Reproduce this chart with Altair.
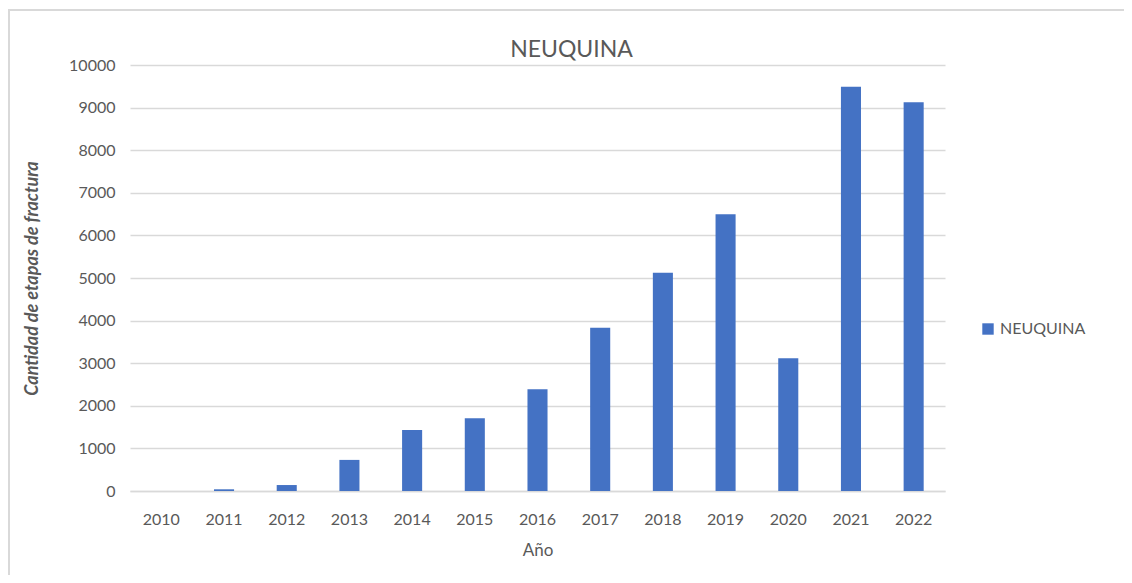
import altair as alt
import pandas as pd

years = ["2010", "2011", "2012", "2013", "2014", "2015", "2016", "2017", "2018", "2019", "2020", "2021", "2022"]
values = [0, 40, 140, 730, 1430, 1710, 2390, 3835, 5125, 6495, 3115, 9490, 9125]
series = ["NEUQUINA"] * len(years)
y_ticks = [0, 1000, 2000, 3000, 4000, 5000, 6000, 7000, 8000, 9000, 10000]
chart_title = "NEUQUINA"

df = pd.DataFrame({"Año": years, "valor": values, "serie": series})

W, H = 815, 426
FONT = "Lato"
GRAY = "#595959"
BORDER = "#d9d9d9"

one = pd.DataFrame({"a": [0]})
L, R, T, B = -121, W + 179, -55, H + 84
top_r = alt.Chart(one).mark_rect(color=BORDER).encode(
    x=alt.value(L - 1), x2=alt.value(R), y=alt.value(T - 1), y2=alt.value(T + 1))
left_r = alt.Chart(one).mark_rect(color=BORDER).encode(
    x=alt.value(L - 1), x2=alt.value(L + 1), y=alt.value(T - 1), y2=alt.value(B))

title = alt.Chart(pd.DataFrame({"t": [chart_title]})).mark_text(
    fontSize=23, font=FONT, color=GRAY, align="center", baseline="middle"
).encode(
    text="t:N", x=alt.value(W / 2 + 34), y=alt.value(-15),
)

bars = alt.Chart(df).mark_bar(color="#4472C4").encode(
    x=alt.X("Año:N", sort=years,
            scale=alt.Scale(paddingInner=0.68, paddingOuter=0.34),
            axis=alt.Axis(title="Año", labelAngle=0, ticks=False,
                          domainColor=BORDER, domainWidth=1.5,
                          labelPadding=20, labelFontSize=16, labelColor=GRAY,
                          labelFont=FONT, titleFont=FONT, titleFontSize=17,
                          titleColor=GRAY, titleFontWeight="normal",
                          titleY=59, titleBaseline="middle")),
    y=alt.Y("valor:Q", scale=alt.Scale(domain=[0, 10000], nice=False),
            axis=alt.Axis(title="Cantidad de etapas de fractura", values=y_ticks,
                          format="d", ticks=False, domain=False, grid=True,
                          gridColor=BORDER, gridWidth=1.5,
                          labelPadding=15, labelFontSize=16, labelColor=GRAY,
                          labelFont=FONT, titleFont=FONT, titleFontSize=18,
                          titleFontStyle="italic", titleFontWeight="bold",
                          titleColor=GRAY, titleAngle=-90, titleX=-98,
                          titleY=H / 2, titleAlign="center",
                          titleBaseline="middle")),
    color=alt.Color("serie:N", scale=alt.Scale(range=["#4472C4"]),
                    legend=alt.Legend(title=None, orient="none", legendX=850,
                                      legendY=256, symbolType="square",
                                      symbolSize=130, labelFontSize=16,
                                      labelColor=GRAY, labelFont=FONT,
                                      symbolStrokeWidth=0)),
)

chart = alt.layer(top_r, left_r, bars, title).properties(
    width=W, height=H,
    autosize=alt.AutoSizeParams(type="none"),
    padding={"left": 122, "top": 57, "right": 179, "bottom": 84},
).configure_view(stroke=None)

chart.save("out.html", embed_options={"renderer": "svg", "actions": False})
